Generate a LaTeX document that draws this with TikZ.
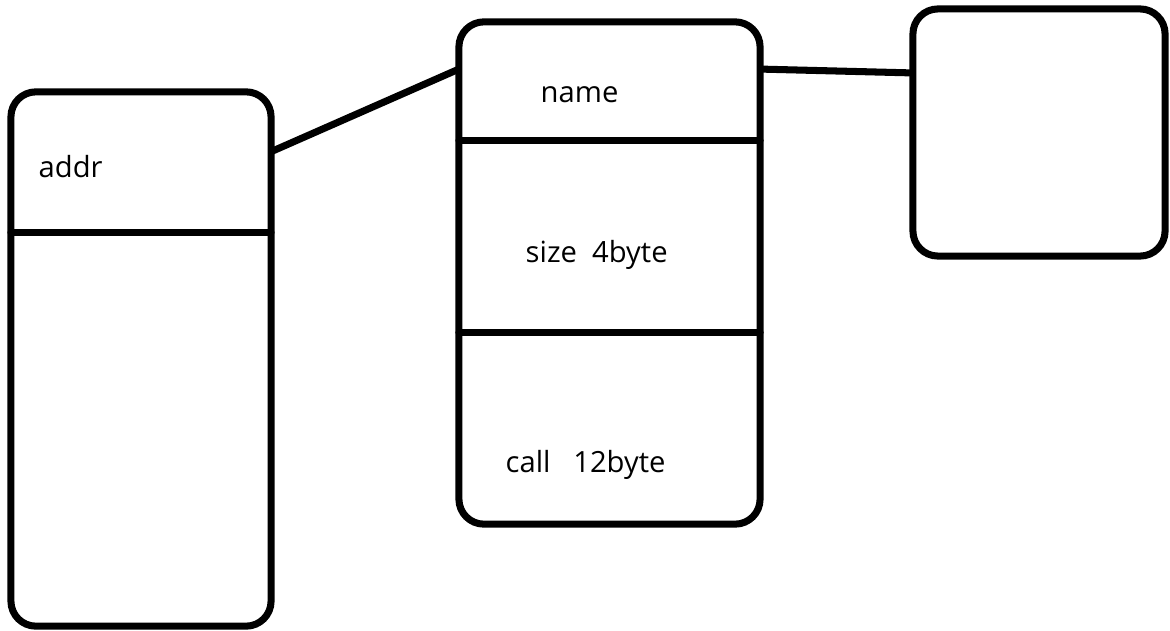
\documentclass[tikz,border=0pt]{standalone}
\usepackage{fontspec}
\setmainfont{Open Sans}
\usepackage{tikz}
\usetikzlibrary{calc}

\tikzset{
  cell/.style={draw=black, line width=2pt, rounded corners=0.25cm, inner sep=0pt, outer sep=0pt},
  bar/.style={black, line width=2pt, line cap=round},
  link/.style={black, line width=2pt},
  lbl/.style={font=\fontsize{8.3}{10}\selectfont, inner sep=0pt, anchor=base west}
}

\begin{document}
\begin{tikzpicture}[x=0.01cm, y=-0.01cm]
  \useasboundingbox (0,0) rectangle (1170,630);
  \node[cell, minimum width=2.6cm, minimum height=5.34cm] (addrbox) at (141,359) {};
  \node[cell, minimum width=3.01cm, minimum height=5.02cm] (infobox) at (609.5,273) {};
  \node[cell, minimum width=2.52cm, minimum height=2.47cm] (targetbox) at (1039,132.5) {};
  \draw[bar] ($(addrbox.north west)!0.264!(addrbox.south west)$) -- ($(addrbox.north east)!0.264!(addrbox.south east)$);
  \draw[bar] ($(infobox.north west)!0.237!(infobox.south west)$) -- ($(infobox.north east)!0.237!(infobox.south east)$);
  \draw[bar] ($(infobox.north west)!0.6175!(infobox.south west)$) -- ($(infobox.north east)!0.6175!(infobox.south east)$);
  \node[lbl] (addr) at (38,177) {addr};
  \node[lbl] (name) at (540,102) {name};
  \node[lbl] (size) at (525,262) {size~~4byte};
  \node[lbl] (call) at (505,472) {call~~~12byte};
  \draw[link] ($(addrbox.north east)!0.112!(addrbox.south east)$) -- ($(infobox.north west)!0.094!(infobox.south west)$);
  \draw[link] ($(infobox.north east)!0.094!(infobox.south east)$) -- ($(targetbox.north west)!0.259!(targetbox.south west)$);
\end{tikzpicture}
\end{document}
